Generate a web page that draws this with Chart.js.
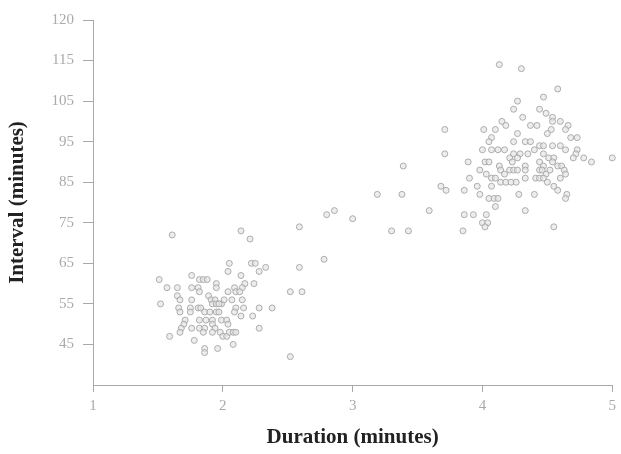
<!DOCTYPE html>
<html>
<head>
<meta charset="utf-8">
<title>Eruptions</title>
<script src="https://cdn.jsdelivr.net/npm/chart.js@4.4.0/dist/chart.umd.min.js"></script>
<style>
    html, body { margin: 0; padding: 0; background: #fff; }
    #wrap { width: 621px; height: 454px; }
</style>
</head>
<body>
<div id="wrap"><canvas id="eruptions" width="621" height="454"></canvas></div>
<script>
// eruption length and wait until the next one, both in minutes
const duration = [
    1.61, 2.14, 2.21, 2.59, 2.78, 2.59, 2.05, 2.22, 2.25, 2.04,
    2.28, 2.33, 1.51, 1.76, 1.82, 1.85, 1.88, 1.95, 1.95, 2.14,
    2.17, 2.15, 2.24, 1.57, 1.65, 1.76, 1.81, 1.82, 2.09, 2.10,
    2.13, 2.04, 2.52, 2.61, 1.65, 1.67, 1.76, 1.89, 1.91, 1.94,
    1.99, 2.01, 2.07, 2.15, 1.52, 1.66, 1.67, 1.75, 1.81, 1.83,
    1.92, 1.95, 1.97, 2.10, 2.16, 2.28, 2.38, 1.86, 1.90, 1.95,
    1.97, 1.75, 2.09, 2.23, 1.71, 1.70, 1.82, 1.87, 1.92, 1.99,
    2.03, 2.04, 2.14, 1.68, 1.67, 1.76, 1.82, 1.86, 1.85, 1.92,
    1.94, 1.92, 1.98, 2.00, 2.03, 2.05, 2.08, 2.10, 2.28, 1.59,
    1.78, 2.08, 1.86, 1.86, 1.96, 2.52, 3.39, 3.19, 3.38, 2.80,
    2.86, 3.00, 3.30, 3.43, 3.59,
    4.13, 4.30, 4.47, 4.58, 4.27, 4.24, 4.44, 4.49, 4.54, 4.54,
    4.31, 4.15, 4.18, 4.60, 4.37, 4.42, 4.66, 4.64, 3.71, 4.01,
    4.10, 4.53, 4.50, 4.27, 4.07, 4.05, 4.33, 4.37, 4.68, 4.73,
    4.24, 4.00, 4.07, 4.12, 4.17, 4.44, 4.47, 4.54, 4.60, 4.64,
    4.73, 4.72, 4.70, 3.71, 4.21, 4.24, 4.29, 4.35, 4.40, 4.47,
    4.51, 4.55, 4.78, 4.84, 5.00, 3.89, 4.02, 4.05, 4.23, 4.27,
    4.33, 4.44, 4.47, 4.54, 4.58, 4.61, 3.98, 4.13, 4.14, 4.17,
    4.21, 4.24, 4.27, 4.33, 4.44, 4.46, 4.49, 4.52, 4.63, 3.90,
    4.03, 4.07, 4.10, 4.14, 4.18, 4.22, 4.26, 4.33, 4.41, 4.44,
    4.47, 4.50, 4.55, 4.58, 4.60, 4.64, 3.96, 3.68, 3.72, 3.86,
    4.07, 3.98, 4.05, 4.09, 4.12, 4.28, 4.40, 4.65, 4.64, 3.86,
    3.93, 4.03, 4.10, 4.33, 3.85, 4.00, 4.04, 4.02, 4.55
];
const interval = [
    72, 73, 71, 74, 66, 64, 65, 65, 65, 63,
    63, 64, 61, 62, 61, 61, 61, 60, 59, 62,
    60, 59, 60, 59, 59, 59, 59, 58, 59, 58,
    58, 58, 58, 58, 57, 56, 56, 57, 56, 56,
    55, 56, 56, 56, 55, 54, 53, 54, 54, 54,
    55, 55, 55, 54, 54, 54, 54, 53, 53, 53,
    53, 53, 53, 52, 51, 50, 51, 51, 51, 51,
    51, 50, 52, 49, 48, 49, 49, 49, 48, 50,
    49, 48, 48, 47, 47, 48, 48, 48, 49, 47,
    46, 45, 44, 43, 44, 42, 89, 82, 82, 77,
    78, 76, 73, 73, 78,
    114, 113, 106, 108, 105, 103, 103, 102, 101, 100,
    101, 100, 99, 100, 99, 99, 99, 98, 98, 98,
    98, 98, 97, 97, 96, 95, 95, 95, 96, 96,
    95, 93, 93, 93, 93, 94, 94, 94, 94, 93,
    93, 92, 91, 92, 91, 92, 92, 92, 93, 92,
    91, 91, 91, 90, 91, 90, 90, 90, 90, 91,
    89, 90, 89, 90, 89, 89, 88, 89, 88, 87,
    88, 88, 88, 88, 88, 88, 87, 88, 88, 86,
    87, 86, 86, 85, 85, 85, 85, 86, 86, 86,
    86, 85, 84, 83, 86, 87, 84, 84, 83, 83,
    84, 82, 81, 81, 81, 82, 82, 82, 81, 77,
    77, 77, 79, 78, 73, 75, 75, 74, 74
];

const xTicks = [1, 2, 3, 4, 5];
const yTicks = [45, 55, 65, 75, 85, 95, 105, 115, 125];
const yTickLabels = ['45', '55', '65', '75', '85', '95', '105', '115', '120'];

const serif = "'Liberation Serif', 'Times New Roman', serif";
const axisGrey = '#aaaaaa';

const points = duration.map((d, i) => ({ x: d, y: interval[i] }));

new Chart(document.getElementById('eruptions'), {
    type: 'scatter',
    data: {
        datasets: [{
            data: points,
            pointStyle: 'circle',
            pointRadius: 3,
            pointBorderWidth: 1,
            pointBorderColor: 'rgba(165, 165, 165, 0.9)',
            pointBackgroundColor: 'rgba(230, 230, 230, 0.7)',
            clip: false
        }]
    },
    options: {
        responsive: false,
        animation: false,
        events: [],
        layout: { padding: { top: 20, right: 5, bottom: 0, left: 0 } },
        plugins: {
            legend: { display: false },
            tooltip: { enabled: false }
        },
        scales: {
            x: {
                type: 'linear',
                min: 1,
                max: 5,
                afterBuildTicks: scale => { scale.ticks = xTicks.map(v => ({ value: v })); },
                afterFit: scale => { scale.height = 69; },
                border: { display: true, color: axisGrey, width: 1 },
                grid: { drawOnChartArea: false, drawTicks: true, tickLength: 7, color: axisGrey },
                ticks: {
                    font: { family: serif, size: 15 },
                    color: '#aaaaaa',
                    padding: 5,
                    maxRotation: 0
                },
                title: {
                    display: true,
                    text: 'Duration (minutes)',
                    font: { family: serif, size: 21, weight: 'bold' },
                    color: '#222222',
                    padding: { top: 0, bottom: 4 }
                }
            },
            y: {
                type: 'linear',
                min: 35,
                max: 125,
                afterBuildTicks: scale => { scale.ticks = yTicks.map(v => ({ value: v })); },
                afterFit: scale => { scale.width = 93; },
                border: { display: true, color: axisGrey, width: 1 },
                grid: { drawOnChartArea: false, drawTicks: true, tickLength: 10, color: axisGrey },
                ticks: {
                    font: { family: serif, size: 15 },
                    color: '#aaaaaa',
                    padding: 9,
                    callback: (value, index) => yTickLabels[index]
                },
                title: {
                    display: true,
                    text: 'Interval (minutes)',
                    font: { family: serif, size: 21, weight: 'bold' },
                    color: '#222222',
                    padding: { top: 5, bottom: 0 }
                }
            }
        }
    }
});
</script>
</body>
</html>
